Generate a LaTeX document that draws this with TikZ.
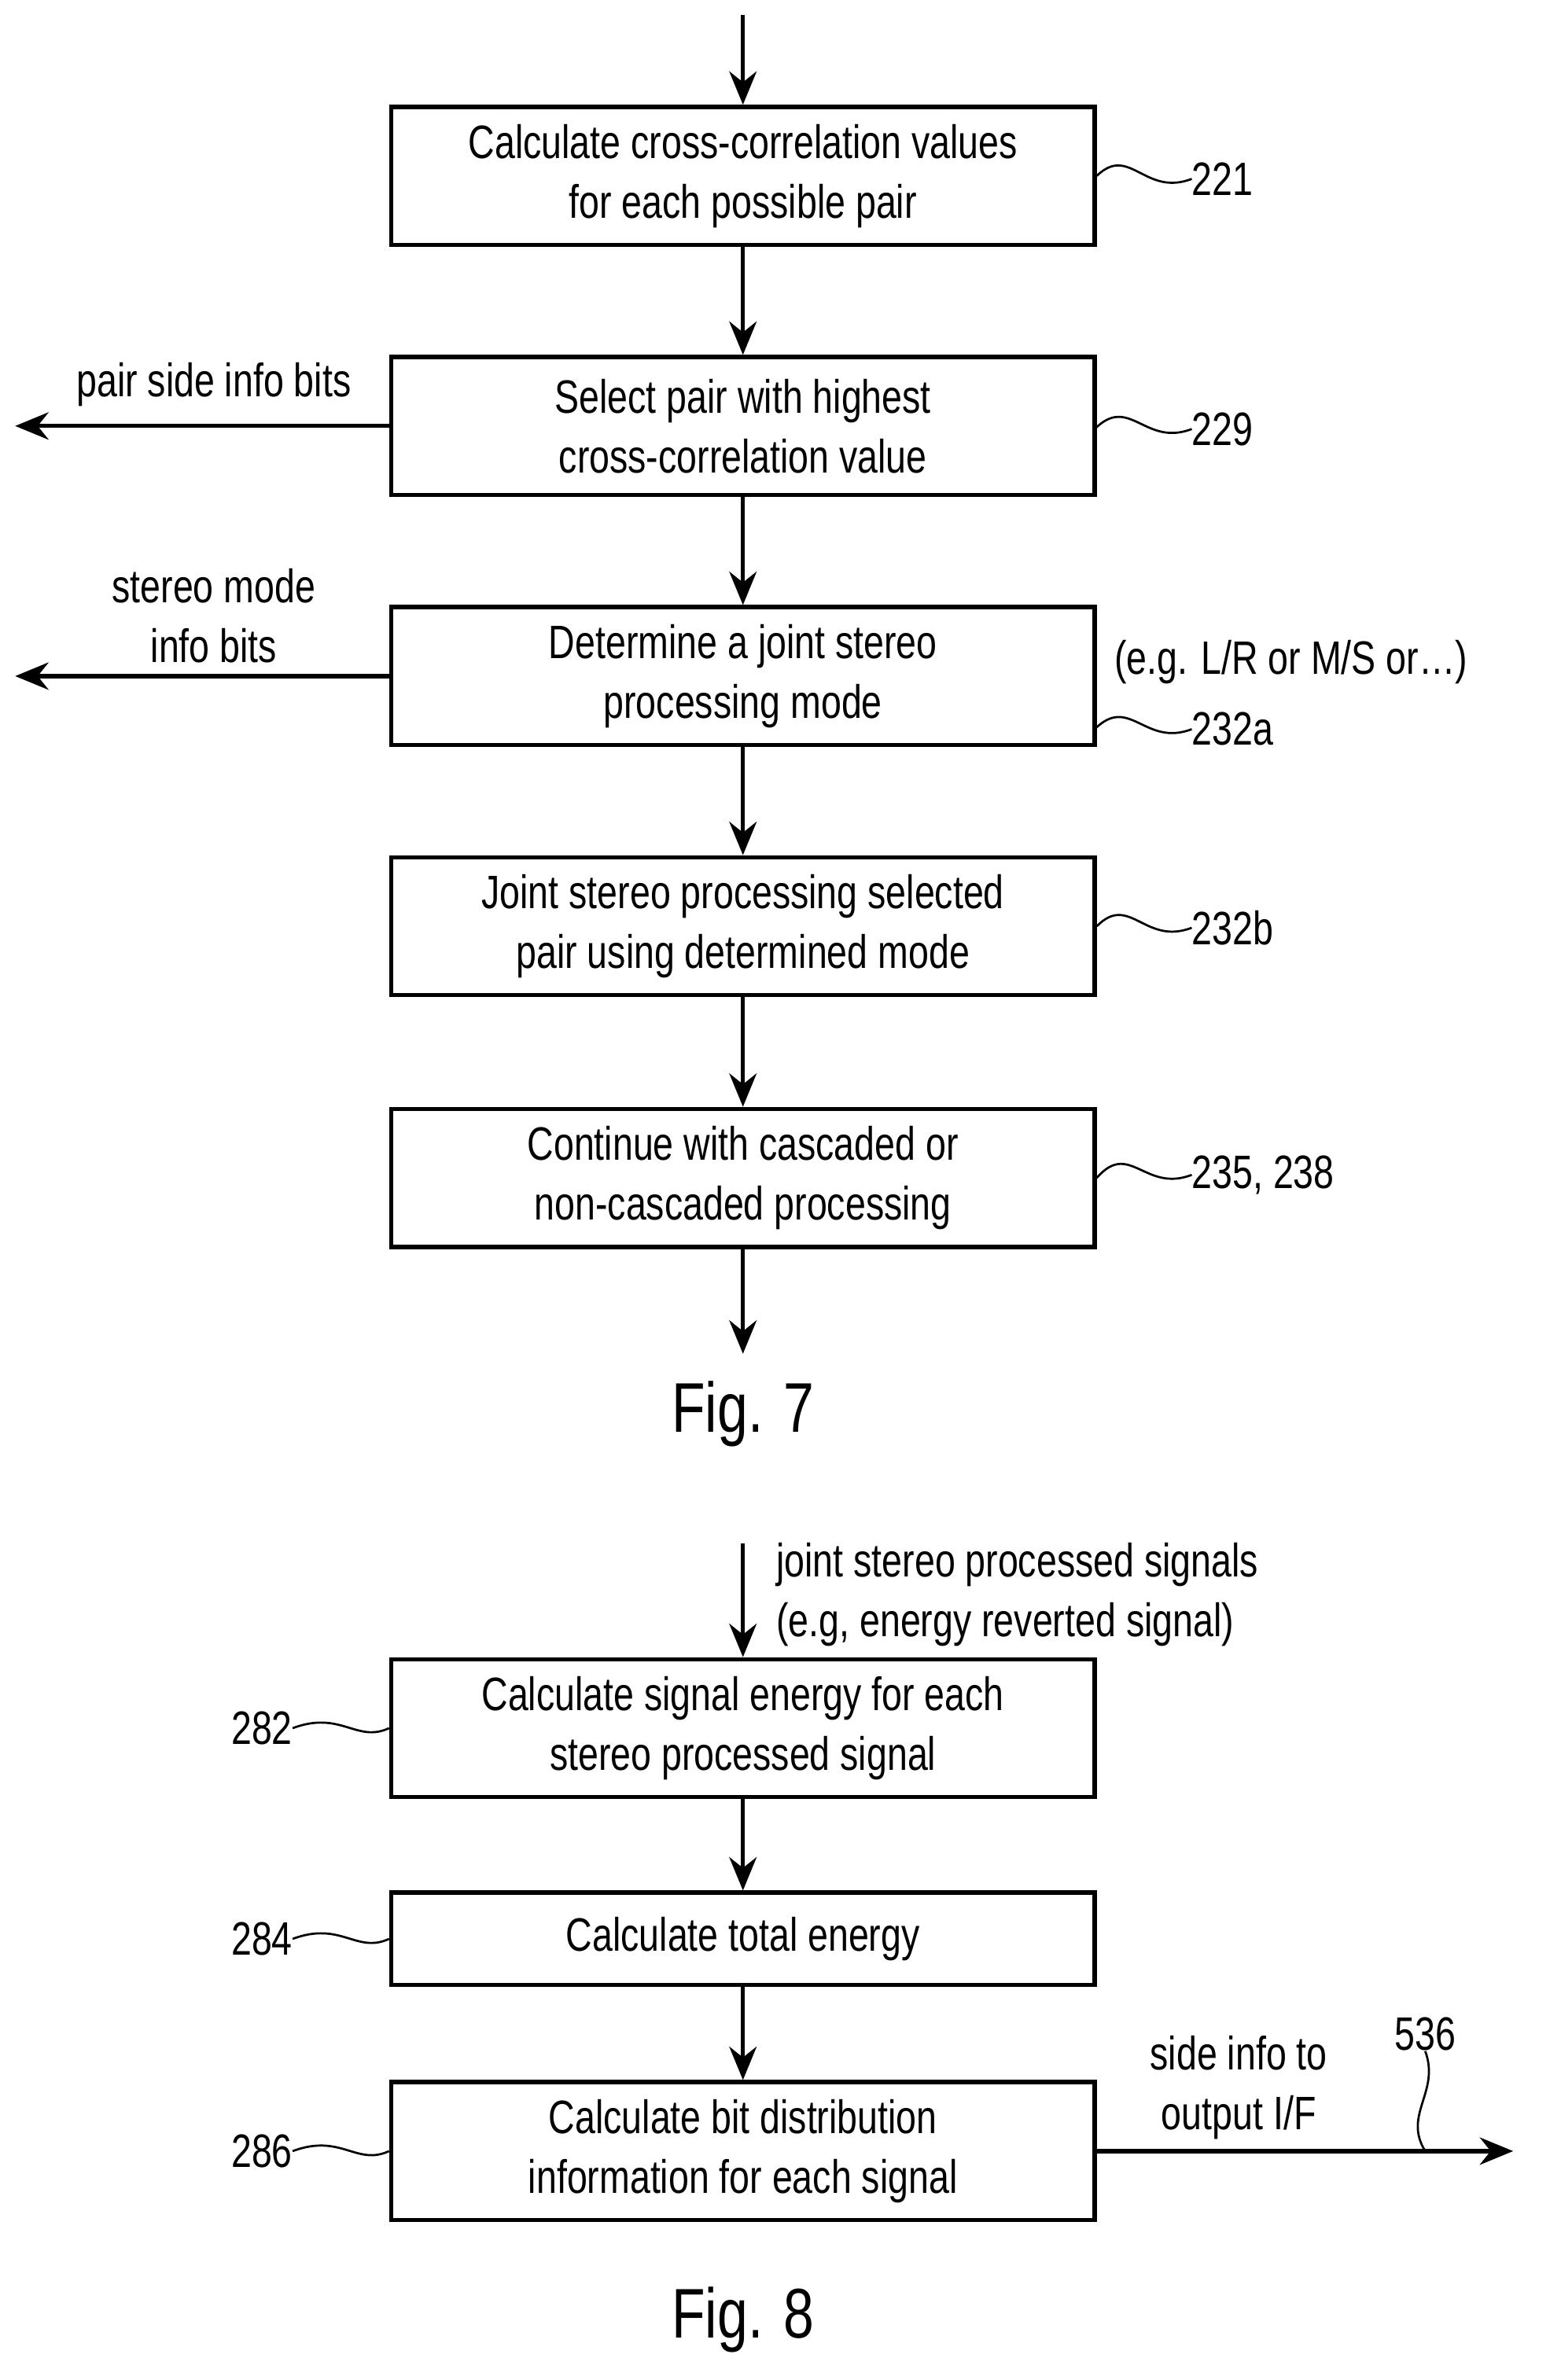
\documentclass[tikz,border=0pt]{standalone}
\usepackage{fontspec}
\setmainfont{Liberation Sans}[FakeStretch=0.78]
\usetikzlibrary{arrows.meta,positioning}
\tikzset{
  blk/.style={draw,line width=4pt,minimum width=23.2cm,minimum height=4.55cm,align=center,font=\fontsize{44}{56}\selectfont},
  lbl/.style={align=center,font=\fontsize{44}{56}\selectfont,inner sep=0pt},
  flow/.style={line width=4pt,-{Stealth[length=1.1cm,width=0.9cm]}},
  lead/.style={line width=2pt}
}
\begin{document}
\begin{tikzpicture}[x=0.05cm,y=-0.05cm]
        \useasboundingbox (0,0) rectangle (1022,1570);
        % Fig. 7
        \coordinate (top) at (490,10);
        \node (corr) [blk] at (490,116) {Calculate cross-correlation values\\for each possible pair};
        \node (sel) [blk] at (490,281) {Select pair with highest\\cross-correlation value};
        \node (mode) [blk] at (490,446) {Determine a joint stereo\\processing mode};
        \node (jsp) [blk] at (490,611) {Joint stereo processing selected\\pair using determined mode};
        \node (cont) [blk] at (490,777) {Continue with cascaded or\\non-cascaded processing};
        \coordinate (bot) at (490,893);
        \node (fig7) [lbl,font=\fontsize{66}{70}\selectfont] at (490,933) {Fig. 7};

        \coordinate (pairout) at (10,281);
        \coordinate (modeout) at (10,446);
        \node (pairlab) [lbl,anchor=south] at (141,268) {pair side info bits};
        \node (modelab) [lbl] at (141,406) {stereo mode\\info bits};
        \node (eg) [lbl,anchor=west] at (735,437) {(e.g. L/R or M/S or\dots)};

        \node (n221) [lbl,anchor=west] at (786,118) {221};
        \node (n229) [lbl,anchor=west] at (786,283) {229};
        \node (n232a) [lbl,anchor=west] at (786,481) {232a};
        \node (n232b) [lbl,anchor=west] at (786,612) {232b};
        \node (n235) [lbl,anchor=west] at (786,775) {235, 238};

        \draw[flow] (top) -- (corr);
        \draw[flow] (corr) -- (sel);
        \draw[flow] (sel) -- (mode);
        \draw[flow] (mode) -- (jsp);
        \draw[flow] (jsp) -- (cont);
        \draw[flow] (cont) -- (bot);
        \draw[flow] (sel.west) -- (pairout);
        \draw[flow] (mode.west) -- (modeout);

        \draw[lead] (corr.east) .. controls (745,95) and (755,130) .. (n221.west);
        \draw[lead] (722,283) .. controls (745,260) and (755,295) .. (n229.west);
        \draw[lead] (722,481) .. controls (745,458) and (755,493) .. (n232a.west);
        \draw[lead] (jsp.east) .. controls (745,589) and (755,624) .. (n232b.west);
        \draw[lead] (cont.east) .. controls (745,752) and (755,787) .. (n235.west);

        % Fig. 8
        \coordinate (in8) at (490,1018);
        \node (inlab) [lbl,anchor=west,align=left] at (512,1052) {joint stereo processed signals\\(e.g, energy reverted signal)};
        \node (energy) [blk] at (490,1140) {Calculate signal energy for each\\stereo processed signal};
        \node (total) [blk,minimum height=3.05cm] at (490,1279) {Calculate total energy};
        \node (bits) [blk] at (490,1419) {Calculate bit distribution\\information for each signal};
        \node (fig8) [lbl,font=\fontsize{66}{70}\selectfont] at (490,1530) {Fig. 8};
        \coordinate (out8) at (998,1419);
        \node (sidelab) [lbl] at (817,1377) {side info to\\output I/F};

        \node (n282) [lbl,anchor=east] at (193,1140) {282};
        \node (n284) [lbl,anchor=east] at (193,1279) {284};
        \node (n286) [lbl,anchor=east] at (193,1419) {286};
        \node (n536) [lbl] at (940,1342) {536};

        \draw[flow] (in8) -- (energy);
        \draw[flow] (energy) -- (total);
        \draw[flow] (total) -- (bits);
        \draw[flow] (bits.east) -- (out8);

        \draw[lead] (n282.east) .. controls (225,1128) and (235,1150) .. (energy.west);
        \draw[lead] (n284.east) .. controls (225,1267) and (235,1289) .. (total.west);
        \draw[lead] (n286.east) .. controls (225,1407) and (235,1429) .. (bits.west);
        \draw[lead] (n536.south) .. controls (950,1380) and (925,1395) .. (940,1419);
\end{tikzpicture}
\end{document}
